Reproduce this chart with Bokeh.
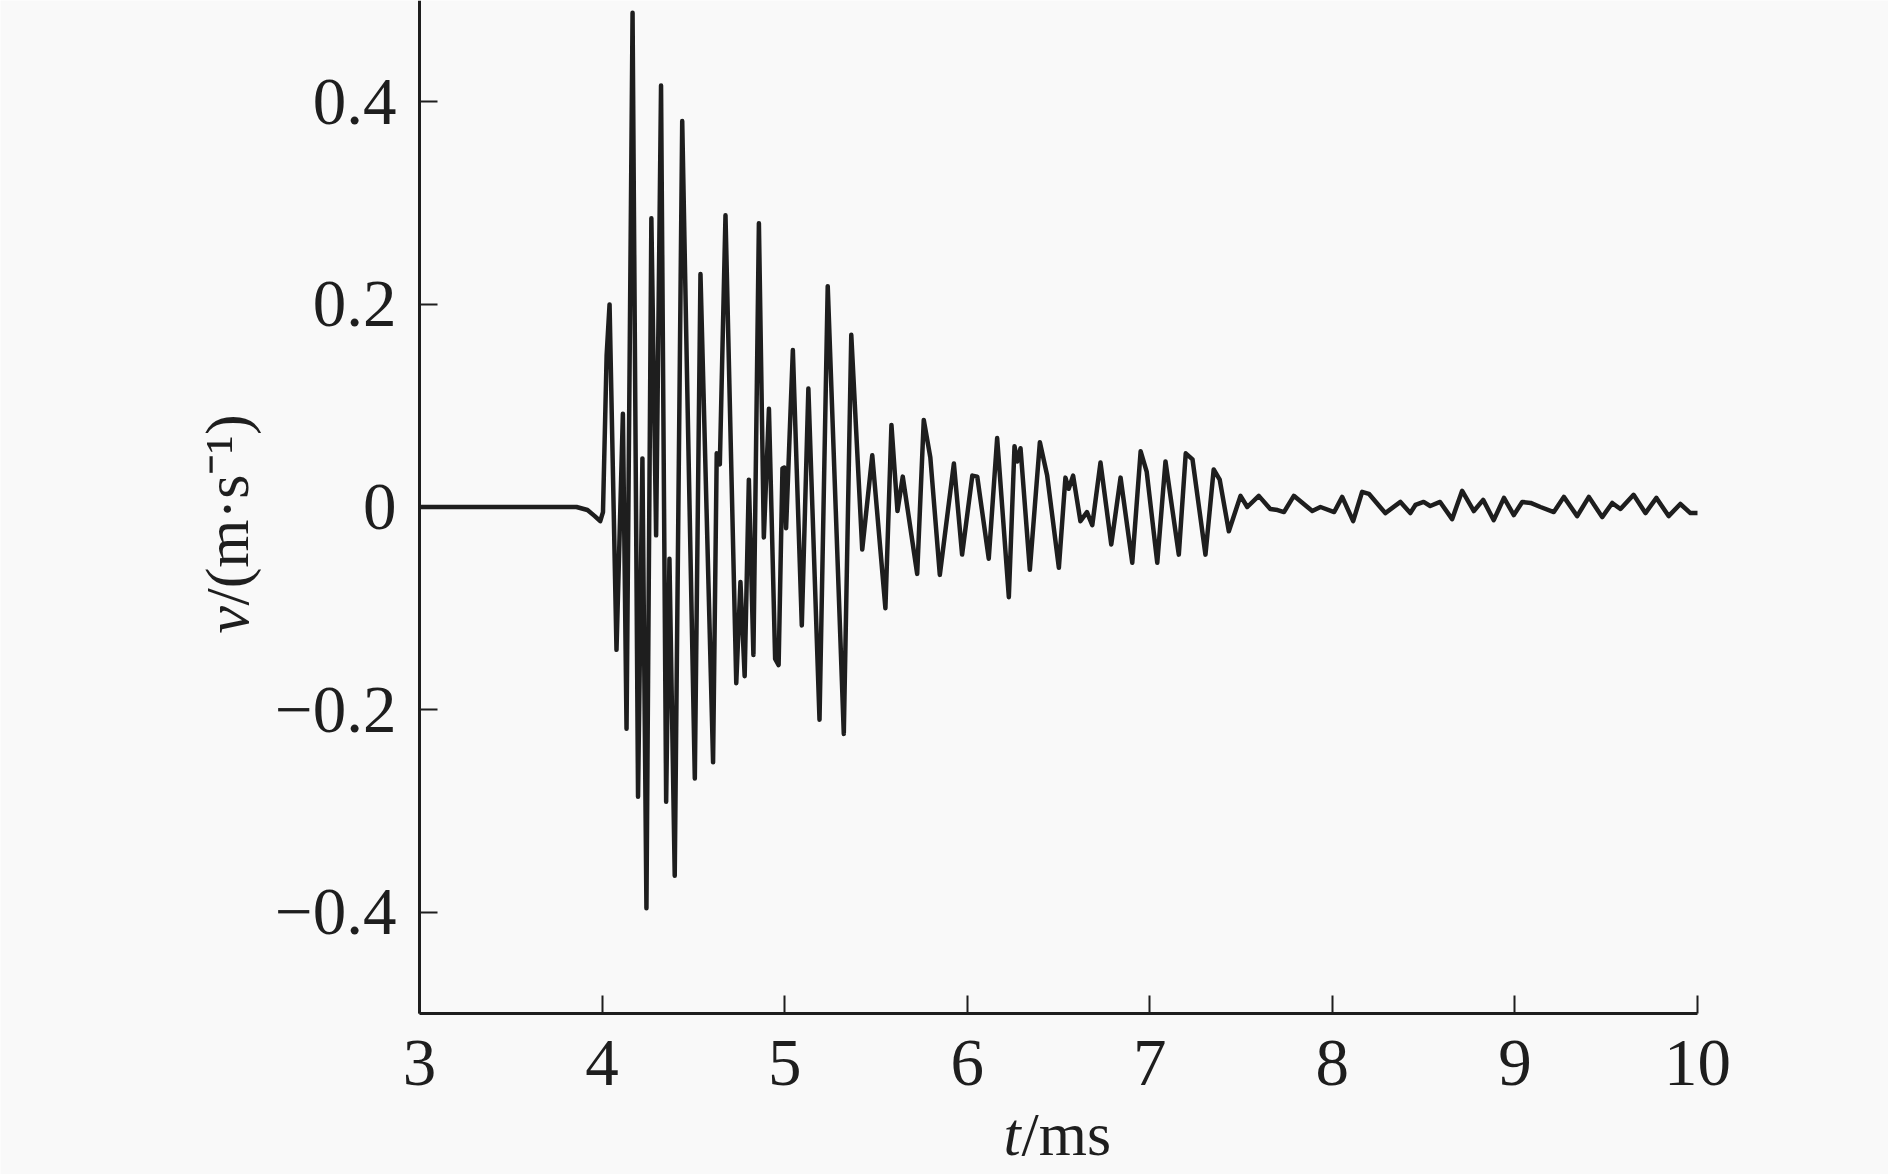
import math
from bokeh.plotting import figure
from bokeh.models import Range1d, FixedTicker
from bokeh.core.properties import value
from bokeh.embed import file_html
from bokeh.resources import INLINE

# time (ms) and velocity (m/s)
t_ms = [3.00, 3.50, 3.86, 3.92, 3.96, 3.99, 4.005, 4.025, 4.041, 4.079,
        4.114, 4.134, 4.167, 4.197, 4.221, 4.243, 4.270, 4.296, 4.323, 4.351,
        4.369, 4.398, 4.439, 4.466, 4.508, 4.539, 4.608, 4.628, 4.645, 4.676,
        4.735, 4.758, 4.781, 4.804, 4.829, 4.859, 4.886, 4.914, 4.948, 4.967,
        4.988, 4.998, 5.008, 5.045, 5.094, 5.130, 5.191, 5.236, 5.324, 5.365,
        5.425, 5.480, 5.552, 5.585, 5.618, 5.647, 5.680, 5.726, 5.762, 5.798,
        5.850, 5.927, 5.972, 6.028, 6.055, 6.118, 6.164, 6.228, 6.259, 6.274,
        6.292, 6.343, 6.398, 6.438, 6.502, 6.538, 6.556, 6.580, 6.620, 6.656,
        6.685, 6.730, 6.789, 6.840, 6.904, 6.950, 6.983, 7.041, 7.086, 7.159,
        7.197, 7.234, 7.305, 7.350, 7.383, 7.433, 7.497, 7.534, 7.597, 7.660,
        7.700, 7.735, 7.789, 7.890, 7.935, 8.010, 8.054, 8.114, 8.163, 8.200,
        8.290, 8.373, 8.427, 8.455, 8.500, 8.536, 8.590, 8.656, 8.711, 8.775,
        8.826, 8.884, 8.940, 8.994, 9.040, 9.086, 9.140, 9.213, 9.268, 9.341,
        9.405, 9.478, 9.533, 9.578, 9.650, 9.715, 9.775, 9.842, 9.906, 9.961,
        10.000]
v_ms = [0.000, 0.000, 0.000, -0.003, -0.009, -0.014, -0.005, 0.150, 0.200, -0.141,
        0.092, -0.219, 0.488, -0.286, 0.048, -0.396, 0.285, -0.028, 0.416, -0.291,
        -0.051, -0.364, 0.381, 0.123, -0.268, 0.230, -0.252, 0.053, 0.042, 0.288,
        -0.174, -0.074, -0.167, 0.027, -0.146, 0.280, -0.030, 0.097, -0.150, -0.156,
        0.038, 0.039, -0.021, 0.155, -0.117, 0.117, -0.210, 0.218, -0.224, 0.170,
        -0.042, 0.051, -0.100, 0.081, -0.004, 0.030, -0.010, -0.066, 0.086, 0.049,
        -0.067, 0.043, -0.047, 0.031, 0.030, -0.051, 0.068, -0.089, 0.060, 0.045,
        0.058, -0.062, 0.064, 0.031, -0.060, 0.029, 0.018, 0.031, -0.014, -0.005,
        -0.018, 0.044, -0.037, 0.029, -0.055, 0.055, 0.035, -0.055, 0.045, -0.047,
        0.053, 0.047, -0.047, 0.037, 0.027, -0.024, 0.011, 0.000, 0.011, -0.002,
        -0.003, -0.005, 0.011, -0.004, 0.000, -0.005, 0.010, -0.014, 0.015, 0.013,
        -0.006, 0.005, -0.006, 0.002, 0.005, 0.001, 0.005, -0.012, 0.016, -0.004,
        0.007, -0.013, 0.009, -0.008, 0.005, 0.004, 0.000, -0.005, 0.010, -0.009,
        0.010, -0.010, 0.004, -0.002, 0.012, -0.006, 0.009, -0.009, 0.003, -0.006,
        -0.006]

x_ticks = [3, 4, 5, 6, 7, 8, 9, 10]
y_ticks = [-0.4, -0.2, 0, 0.2, 0.4]
y_tick_labels = {-0.4: "\u22120.4", -0.2: "\u22120.2", 0: "0", 0.2: "0.2", 0.4: "0.4"}
x_title = ["t", "/ms"]
y_title = ["v", "/(m\u00b7s\u207b\u00b9)"]

X_MIN, X_MAX = 3, 10       # extent of the time axis
Y_MIN, Y_MAX = -0.5, 0.5   # extent of the velocity axis

FONT = "Liberation Serif"
BG = "#f9f9f9"
INK = "#1e1e1e"

W, H = 1888, 1174
# the frame covers the whole canvas; the axes sit at fixed data positions inside it
PX_PER_MS = 182.57
PX_PER_V = 1013.0
X0_PX, Y0_PX = 419.0, 506.5          # pixel position of t=3 and v=0
x_lo = X_MIN - X0_PX / PX_PER_MS
x_hi = X_MIN + (W - X0_PX) / PX_PER_MS
y_hi = Y0_PX / PX_PER_V
y_lo = -(H - Y0_PX) / PX_PER_V

p = figure(width=W, height=H, output_backend="svg", toolbar_location=None,
           x_range=Range1d(x_lo, x_hi), y_range=Range1d(y_lo, y_hi),
           min_border=0, min_border_left=0, min_border_right=0,
           min_border_top=0, min_border_bottom=0)
p.background_fill_color = BG
p.border_fill_color = BG
p.outline_line_color = None
p.grid.visible = False

p.line(t_ms, v_ms, line_color=INK, line_width=4.5, line_join="round")

for ax in (p.xaxis[0], p.yaxis[0]):
    ax.axis_line_width = 3
    ax.axis_line_color = INK
    ax.major_tick_line_width = 2
    ax.major_tick_line_color = INK
    ax.major_tick_in = 18
    ax.major_tick_out = 0
    ax.minor_tick_line_color = None
    ax.major_label_text_font = FONT
    ax.major_label_text_color = INK

p.xaxis.fixed_location = Y_MIN
p.xaxis.bounds = (X_MIN, X_MAX)
p.xaxis.ticker = FixedTicker(ticks=x_ticks)
p.xaxis.major_label_text_font_size = "67px"
p.xaxis.major_label_standoff = 27

p.yaxis.fixed_location = X_MIN
p.yaxis.bounds = (Y_MIN, Y_MAX)
p.yaxis.ticker = FixedTicker(ticks=y_ticks)
p.yaxis.major_label_overrides = y_tick_labels
p.yaxis.major_label_text_font_size = "67px"
p.yaxis.major_label_standoff = 23


def px_to_t(px):
    return X_MIN + (px - X0_PX) / PX_PER_MS


def py_to_v(py):
    return (Y0_PX - py) / PX_PER_V


# axis titles: italic variable followed by upright unit
p.text(x=[px_to_t(1003)], y=[py_to_v(1133)], text=[x_title[0]],
       text_font=value(FONT), text_font_size="62px", text_font_style="italic",
       text_color=INK, text_align="left", text_baseline="alphabetic")
p.text(x=[px_to_t(1021)], y=[py_to_v(1133)], text=[x_title[1]],
       text_font=value(FONT), text_font_size="62px", text_font_style="normal",
       text_color=INK, text_align="left", text_baseline="alphabetic")
p.text(x=[px_to_t(226)], y=[py_to_v(633)], text=[y_title[0]], angle=math.pi / 2,
       text_font=value(FONT), text_font_size="62px", text_font_style="italic",
       text_color=INK, text_align="left", text_baseline="alphabetic")
p.text(x=[px_to_t(226)], y=[py_to_v(605)], text=[y_title[1]], angle=math.pi / 2,
       text_font=value(FONT), text_font_size="62px", text_font_style="normal",
       text_color=INK, text_align="left", text_baseline="alphabetic")

open("out.html", "w").write(file_html(p, INLINE))
